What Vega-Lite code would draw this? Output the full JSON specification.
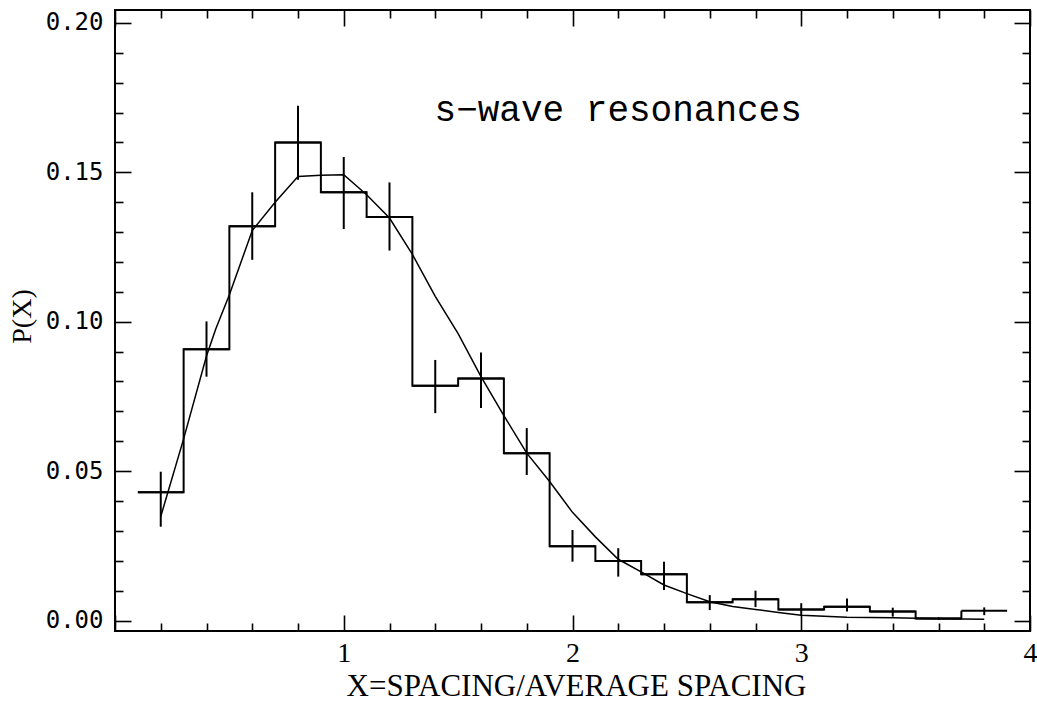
{
  "$schema": "https://vega.github.io/schema/vega-lite/v6.json",
  "width": 915,
  "height": 621,
  "autosize": {"type": "none"},
  "padding": {"left": 115, "top": 10, "right": 7, "bottom": 73},
  "background": "white",
  "config": {
    "view": {"stroke": "black", "strokeWidth": 2},
    "axis": {"domain": false, "grid": false, "tickColor": "black", "tickWidth": 1.6}
  },
  "datasets": {
    "hist": [
      {"bin_start": 0.1, "bin_end": 0.3, "center": 0.2, "p": 0.0429, "lo": 0.0314, "hi": 0.0498},
      {"bin_start": 0.3, "bin_end": 0.5, "center": 0.4, "p": 0.0908, "lo": 0.0816, "hi": 0.1001},
      {"bin_start": 0.5, "bin_end": 0.7, "center": 0.6, "p": 0.1319, "lo": 0.1207, "hi": 0.1433},
      {"bin_start": 0.7, "bin_end": 0.9, "center": 0.8, "p": 0.1600, "lo": 0.1475, "hi": 0.1723},
      {"bin_start": 0.9, "bin_end": 1.1, "center": 1.0, "p": 0.1433, "lo": 0.1310, "hi": 0.1551},
      {"bin_start": 1.1, "bin_end": 1.3, "center": 1.2, "p": 0.1350, "lo": 0.1238, "hi": 0.1466},
      {"bin_start": 1.3, "bin_end": 1.5, "center": 1.4, "p": 0.0786, "lo": 0.0694, "hi": 0.0872},
      {"bin_start": 1.5, "bin_end": 1.7, "center": 1.6, "p": 0.0810, "lo": 0.0711, "hi": 0.0897},
      {"bin_start": 1.7, "bin_end": 1.9, "center": 1.8, "p": 0.0560, "lo": 0.0487, "hi": 0.0644},
      {"bin_start": 1.9, "bin_end": 2.1, "center": 2.0, "p": 0.0249, "lo": 0.0197, "hi": 0.0303},
      {"bin_start": 2.1, "bin_end": 2.3, "center": 2.2, "p": 0.0199, "lo": 0.0147, "hi": 0.0242},
      {"bin_start": 2.3, "bin_end": 2.5, "center": 2.4, "p": 0.0155, "lo": 0.0102, "hi": 0.0197},
      {"bin_start": 2.5, "bin_end": 2.7, "center": 2.6, "p": 0.0061, "lo": 0.0035, "hi": 0.0085},
      {"bin_start": 2.7, "bin_end": 2.9, "center": 2.8, "p": 0.0071, "lo": 0.0045, "hi": 0.0100},
      {"bin_start": 2.9, "bin_end": 3.1, "center": 3.0, "p": 0.0037, "lo": 0.0015, "hi": 0.0058},
      {"bin_start": 3.1, "bin_end": 3.3, "center": 3.2, "p": 0.0046, "lo": 0.0030, "hi": 0.0074},
      {"bin_start": 3.3, "bin_end": 3.5, "center": 3.4, "p": 0.0030, "lo": 0.0013, "hi": 0.0043},
      {"bin_start": 3.5, "bin_end": 3.7, "center": 3.6, "p": 0.0007, "lo": 0.0003, "hi": 0.0011},
      {"bin_start": 3.7, "bin_end": 3.9, "center": 3.8, "p": 0.0033, "lo": 0.0018, "hi": 0.0044}
    ],
    "curve": [
      {"x": 0.2, "p": 0.0348}, {"x": 0.3, "p": 0.0608}, {"x": 0.4, "p": 0.0885},
      {"x": 0.44, "p": 0.0975}, {"x": 0.5, "p": 0.1090}, {"x": 0.6, "p": 0.1305},
      {"x": 0.7, "p": 0.1400}, {"x": 0.8, "p": 0.1486}, {"x": 0.9, "p": 0.1490},
      {"x": 1.0, "p": 0.1492}, {"x": 1.1, "p": 0.1425}, {"x": 1.2, "p": 0.1347},
      {"x": 1.3, "p": 0.1225}, {"x": 1.4, "p": 0.1085}, {"x": 1.5, "p": 0.0960},
      {"x": 1.6, "p": 0.0816}, {"x": 1.7, "p": 0.0686}, {"x": 1.8, "p": 0.0560},
      {"x": 1.9, "p": 0.0465}, {"x": 2.0, "p": 0.0362}, {"x": 2.1, "p": 0.0280},
      {"x": 2.2, "p": 0.0205}, {"x": 2.3, "p": 0.0163}, {"x": 2.4, "p": 0.0119},
      {"x": 2.5, "p": 0.0090}, {"x": 2.6, "p": 0.0063}, {"x": 2.7, "p": 0.0047},
      {"x": 2.8, "p": 0.0037}, {"x": 2.9, "p": 0.0027}, {"x": 3.0, "p": 0.0018},
      {"x": 3.2, "p": 0.0011}, {"x": 3.4, "p": 0.0009}, {"x": 3.6, "p": 0.0006},
      {"x": 3.8, "p": 0.0004}
    ],
    "note": [
      {"x": 1.397, "p": 0.167, "label": "s−wave resonances"}
    ]
  },
  "resolve": {"axis": {"x": "independent", "y": "independent"}},
  "layer": [
    {
      "data": {"name": "hist"},
      "mark": {"type": "rule", "color": "black", "strokeWidth": 2},
      "encoding": {
        "x": {
          "field": "bin_start", "type": "quantitative",
          "scale": {"domain": [0, 4], "nice": false, "zero": false},
          "axis": {
            "orient": "bottom",
            "values": [0, 0.2, 0.4, 0.6, 0.8, 1, 1.2, 1.4, 1.6, 1.8, 2, 2.2, 2.4, 2.6, 2.8, 3, 3.2, 3.4, 3.6, 3.8, 4],
            "tickSize": {"condition": {"test": "datum.value % 1 === 0", "value": -16}, "value": -8},
            "labelExpr": "datum.value % 1 === 0 && datum.value > 0 ? format(datum.value, 'd') : ''",
            "labelFont": "Liberation Serif", "labelFontSize": 28, "labelColor": "black",
            "labelPadding": 24, "labelBaseline": "top", "labelFlush": false, "labelOverlap": false,
            "title": "X=SPACING/AVERAGE SPACING",
            "titleFont": "Liberation Serif", "titleFontSize": 31, "titleFontWeight": "normal",
            "titleColor": "black", "titleX": 461, "titleY": 64, "titleBaseline": "alphabetic", "titleAlign": "center"
          }
        },
        "x2": {"field": "bin_end"},
        "y": {
          "field": "p", "type": "quantitative",
          "scale": {"domain": [-0.0035, 0.2043], "nice": false, "zero": false},
          "axis": {
            "orient": "left",
            "values": [0, 0.01, 0.02, 0.03, 0.04, 0.05, 0.06, 0.07, 0.08, 0.09, 0.1, 0.11, 0.12, 0.13, 0.14, 0.15, 0.16, 0.17, 0.18, 0.19, 0.2],
            "tickSize": {"condition": {"test": "abs(datum.value * 20 - round(datum.value * 20)) < 0.000001", "value": -16}, "value": -8},
            "labelExpr": "abs(datum.value * 20 - round(datum.value * 20)) < 0.000001 ? format(datum.value, '.2f') : ''",
            "labelFont": "DejaVu Sans Mono", "labelFontSize": 24, "labelColor": "black",
            "labelPadding": 28, "labelBaseline": "middle", "labelFlush": false, "labelOverlap": false,
            "title": "P(X)",
            "titleFont": "Liberation Serif", "titleFontSize": 28, "titleFontWeight": "normal",
            "titleColor": "black", "titleX": -93, "titleY": 306, "titleAngle": 270,
            "titleBaseline": "middle", "titleAlign": "center"
          }
        }
      }
    },
    {
      "data": {"name": "hist"},
      "mark": {"type": "line", "interpolate": "step-after", "color": "black", "strokeWidth": 2},
      "encoding": {
        "x": {"field": "bin_start", "type": "quantitative", "axis": null},
        "y": {"field": "p", "type": "quantitative", "axis": null}
      }
    },
    {
      "data": {"name": "hist"},
      "mark": {"type": "rule", "color": "black", "strokeWidth": 2},
      "encoding": {
        "x": {"field": "center", "type": "quantitative", "axis": null},
        "y": {"field": "lo", "type": "quantitative", "axis": null},
        "y2": {"field": "hi"}
      }
    },
    {
      "data": {"name": "curve"},
      "mark": {"type": "line", "color": "black", "strokeWidth": 1.5},
      "encoding": {
        "x": {
          "field": "x", "type": "quantitative",
          "axis": {
            "orient": "top",
            "values": [0, 0.2, 0.4, 0.6, 0.8, 1, 1.2, 1.4, 1.6, 1.8, 2, 2.2, 2.4, 2.6, 2.8, 3, 3.2, 3.4, 3.6, 3.8, 4],
            "tickSize": {"condition": {"test": "datum.value % 1 === 0", "value": -16}, "value": -8},
            "labels": false, "title": null
          }
        },
        "y": {
          "field": "p", "type": "quantitative",
          "axis": {
            "orient": "right",
            "values": [0, 0.01, 0.02, 0.03, 0.04, 0.05, 0.06, 0.07, 0.08, 0.09, 0.1, 0.11, 0.12, 0.13, 0.14, 0.15, 0.16, 0.17, 0.18, 0.19, 0.2],
            "tickSize": {"condition": {"test": "abs(datum.value * 20 - round(datum.value * 20)) < 0.000001", "value": -16}, "value": -8},
            "labels": false, "title": null
          }
        }
      }
    },
    {
      "data": {"name": "note"},
      "mark": {"type": "text", "font": "Liberation Mono", "fontSize": 36, "color": "black", "align": "left", "baseline": "alphabetic"},
      "encoding": {
        "x": {"field": "x", "type": "quantitative", "axis": null},
        "y": {"field": "p", "type": "quantitative", "axis": null},
        "text": {"field": "label"}
      }
    }
  ]
}
